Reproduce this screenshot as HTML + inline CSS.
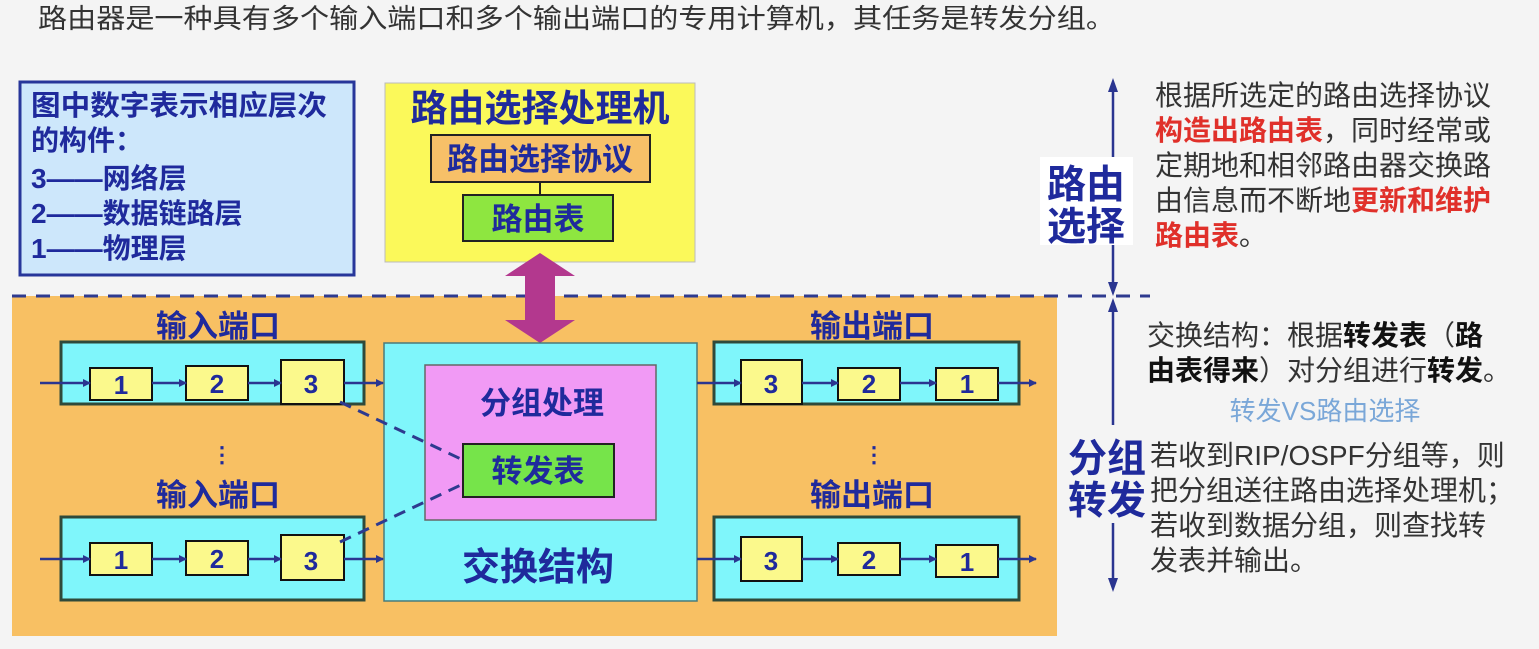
<!DOCTYPE html>
<html><head><meta charset="utf-8"><style>
html,body{margin:0;padding:0;background:#f4f4f4;}
svg{display:block;font-family:"Liberation Sans","Noto Sans CJK SC",sans-serif;}
.b{fill:#1f2a9c;font-weight:bold;}
.t{fill:#333;}
.r{fill:#e0302a;font-weight:bold;}
</style></head><body>
<svg width="1539" height="649" viewBox="0 0 1539 649" xmlns="http://www.w3.org/2000/svg">
<defs>
<marker id="ah" markerWidth="8" markerHeight="8" refX="7" refY="4" orient="auto" markerUnits="userSpaceOnUse"><path d="M0,0 L8,4 L0,8 z" fill="#2a3590"/></marker>
</defs>
<rect width="1539" height="649" fill="#f4f4f4"/>
<text x="38" y="28" class="t" font-size="27" textLength="1077" lengthAdjust="spacingAndGlyphs">路由器是一种具有多个输入端口和多个输出端口的专用计算机，其任务是转发分组。</text>

<!-- legend -->
<rect x="20" y="82" width="334" height="193" fill="#cde7fb" stroke="#27369a" stroke-width="3"/>
<g class="b" font-size="28">
<text x="31" y="115" textLength="296" lengthAdjust="spacingAndGlyphs">图中数字表示相应层次</text>
<text x="31" y="150">的构件：</text>
<text x="31" y="188">3——网络层</text>
<text x="31" y="223">2——数据链路层</text>
<text x="31" y="258">1——物理层</text>
</g>

<!-- routing processor -->
<rect x="385" y="83" width="310" height="179" fill="#fbf95a" stroke="#bbb" stroke-width="1"/>
<text x="540" y="121" class="b" font-size="37" text-anchor="middle">路由选择处理机</text>
<rect x="431" y="135" width="219" height="47" fill="#f7c068" stroke="#222" stroke-width="2"/>
<text x="540" y="170" class="b" font-size="31" text-anchor="middle">路由选择协议</text>
<line x1="540" y1="182" x2="540" y2="195" stroke="#222" stroke-width="2"/>
<rect x="463" y="195" width="150" height="46" fill="#8ee640" stroke="#222" stroke-width="2"/>
<text x="538" y="230" class="b" font-size="31" text-anchor="middle">路由表</text>

<!-- orange area -->
<rect x="12" y="296" width="1045" height="340" fill="#f8c063"/>
<line x1="12" y1="296" x2="1150" y2="296" stroke="#2e3a8f" stroke-width="3" stroke-dasharray="14,10"/>

<!-- magenta double arrow -->
<path d="M540,253 L575,276 L555,276 L555,320 L575,320 L540,343 L505,320 L525,320 L525,276 L505,276 z" fill="#b3388e"/>

<!-- labels -->
<g class="b" font-size="31" text-anchor="middle">
<text x="218" y="337">输入端口</text>
<text x="218" y="506">输入端口</text>
<text x="872" y="337">输出端口</text>
<text x="872" y="506">输出端口</text>
</g>
<text x="222" y="462" class="b" font-size="22" text-anchor="middle">⋮</text>
<text x="874" y="462" class="b" font-size="22" text-anchor="middle">⋮</text>

<!-- switch fabric -->
<rect x="384" y="343" width="313" height="258" fill="#7ff6fb" stroke="#4a7a7a" stroke-width="1.5"/>
<rect x="425" y="365" width="231" height="155" fill="#f19af5" stroke="#666" stroke-width="1.5"/>
<text x="542" y="414" class="b" font-size="31" text-anchor="middle">分组处理</text>
<rect x="463" y="444" width="151" height="53" fill="#76e44a" stroke="#222" stroke-width="2"/>
<text x="538" y="482" class="b" font-size="31" text-anchor="middle">转发表</text>
<text x="538" y="580" class="b" font-size="38" text-anchor="middle">交换结构</text>

<!-- port boxes -->
<g stroke="#2f4a3a" stroke-width="3" fill="#7ff6fb">
<rect x="61" y="342" width="303" height="62"/>
<rect x="61" y="517" width="303" height="83"/>
<rect x="714" y="342" width="305" height="62"/>
<rect x="714" y="517" width="305" height="83"/>
</g>
<g stroke="#111" stroke-width="2" fill="#fbf98c">
<rect x="90" y="368" width="62" height="32"/><rect x="186" y="366" width="62" height="34"/><rect x="281" y="360" width="63" height="44"/>
<rect x="90" y="543" width="62" height="32"/><rect x="186" y="541" width="62" height="34"/><rect x="281" y="535" width="63" height="45"/>
<rect x="741" y="360" width="61" height="44"/><rect x="838" y="368" width="62" height="32"/><rect x="936" y="368" width="62" height="32"/>
<rect x="741" y="537" width="61" height="44"/><rect x="838" y="543" width="62" height="32"/><rect x="936" y="545" width="62" height="32"/>
</g>
<g class="b" font-size="26" text-anchor="middle">
<text x="121" y="394">1</text><text x="217" y="393">2</text><text x="311" y="393">3</text>
<text x="121" y="569">1</text><text x="217" y="568">2</text><text x="311" y="570">3</text>
<text x="771" y="393">3</text><text x="869" y="393">2</text><text x="967" y="393">1</text>
<text x="771" y="570">3</text><text x="869" y="569">2</text><text x="967" y="571">1</text>
</g>
<!-- arrows -->
<g stroke="#2a3590" stroke-width="2.5" marker-end="url(#ah)">
<line x1="40" y1="383" x2="90" y2="383"/><line x1="152" y1="383" x2="186" y2="383"/><line x1="248" y1="383" x2="281" y2="383"/><line x1="344" y1="383" x2="383" y2="383"/>
<line x1="40" y1="559" x2="90" y2="559"/><line x1="152" y1="559" x2="186" y2="559"/><line x1="248" y1="559" x2="281" y2="559"/><line x1="344" y1="559" x2="383" y2="559"/>
<line x1="697" y1="383" x2="741" y2="383"/><line x1="802" y1="383" x2="838" y2="383"/><line x1="900" y1="383" x2="936" y2="383"/><line x1="998" y1="383" x2="1036" y2="383"/>
<line x1="697" y1="559" x2="741" y2="559"/><line x1="802" y1="559" x2="838" y2="559"/><line x1="900" y1="559" x2="936" y2="559"/><line x1="998" y1="559" x2="1036" y2="559"/>
</g>
<g stroke="#2e3a8f" stroke-width="3" stroke-dasharray="12,8">
<line x1="340" y1="402" x2="463" y2="460"/>
<line x1="340" y1="542" x2="463" y2="484"/>
</g>

<!-- right side -->
<line x1="1113" y1="86" x2="1113" y2="290" stroke="#2a3590" stroke-width="2.5"/>
<path d="M1113,78 L1108,92 L1118,92 z" fill="#2a3590"/><path d="M1113,296 L1108,282 L1118,282 z" fill="#2a3590"/>
<line x1="1113" y1="302" x2="1113" y2="584" stroke="#2a3590" stroke-width="2.5"/>
<path d="M1113,298 L1108,312 L1118,312 z" fill="#2a3590"/><path d="M1113,592 L1108,578 L1118,578 z" fill="#2a3590"/>
<rect x="1040" y="157" width="93" height="88" fill="#fff"/>
<g class="b" font-size="39" fill="#1f3aa8"><text x="1047" y="198">路由</text><text x="1047" y="240">选择</text></g>
<rect x="1068" y="425" width="80" height="98" fill="#f4f4f4"/>
<g class="b" font-size="39"><text x="1068" y="472">分组</text><text x="1068" y="514">转发</text></g>

<g class="t" font-size="28">
<text x="1155" y="105">根据所选定的路由选择协议</text>
<text x="1155" y="140"><tspan class="r">构造出路由表</tspan>，同时经常或</text>
<text x="1155" y="175">定期地和相邻路由器交换路</text>
<text x="1155" y="210">由信息而不断地<tspan class="r">更新和维护</tspan></text>
<text x="1155" y="245"><tspan class="r">路由表</tspan>。</text>
<text x="1147" y="345">交换结构：根据<tspan font-weight="bold" fill="#111">转发表</tspan>（<tspan font-weight="bold" fill="#111">路</tspan></text>
<text x="1147" y="380"><tspan font-weight="bold" fill="#111">由表得来</tspan>）对分组进行<tspan font-weight="bold" fill="#111">转发</tspan>。</text>
<text x="1325" y="420" text-anchor="middle" style="fill:#7aa7d8" font-size="26">转发VS路由选择</text>
<text x="1150" y="465">若收到RIP/OSPF分组等，则</text>
<text x="1150" y="500">把分组送往路由选择处理机；</text>
<text x="1150" y="535">若收到数据分组，则查找转</text>
<text x="1150" y="570">发表并输出。</text>
</g>
</svg>
</body></html>
